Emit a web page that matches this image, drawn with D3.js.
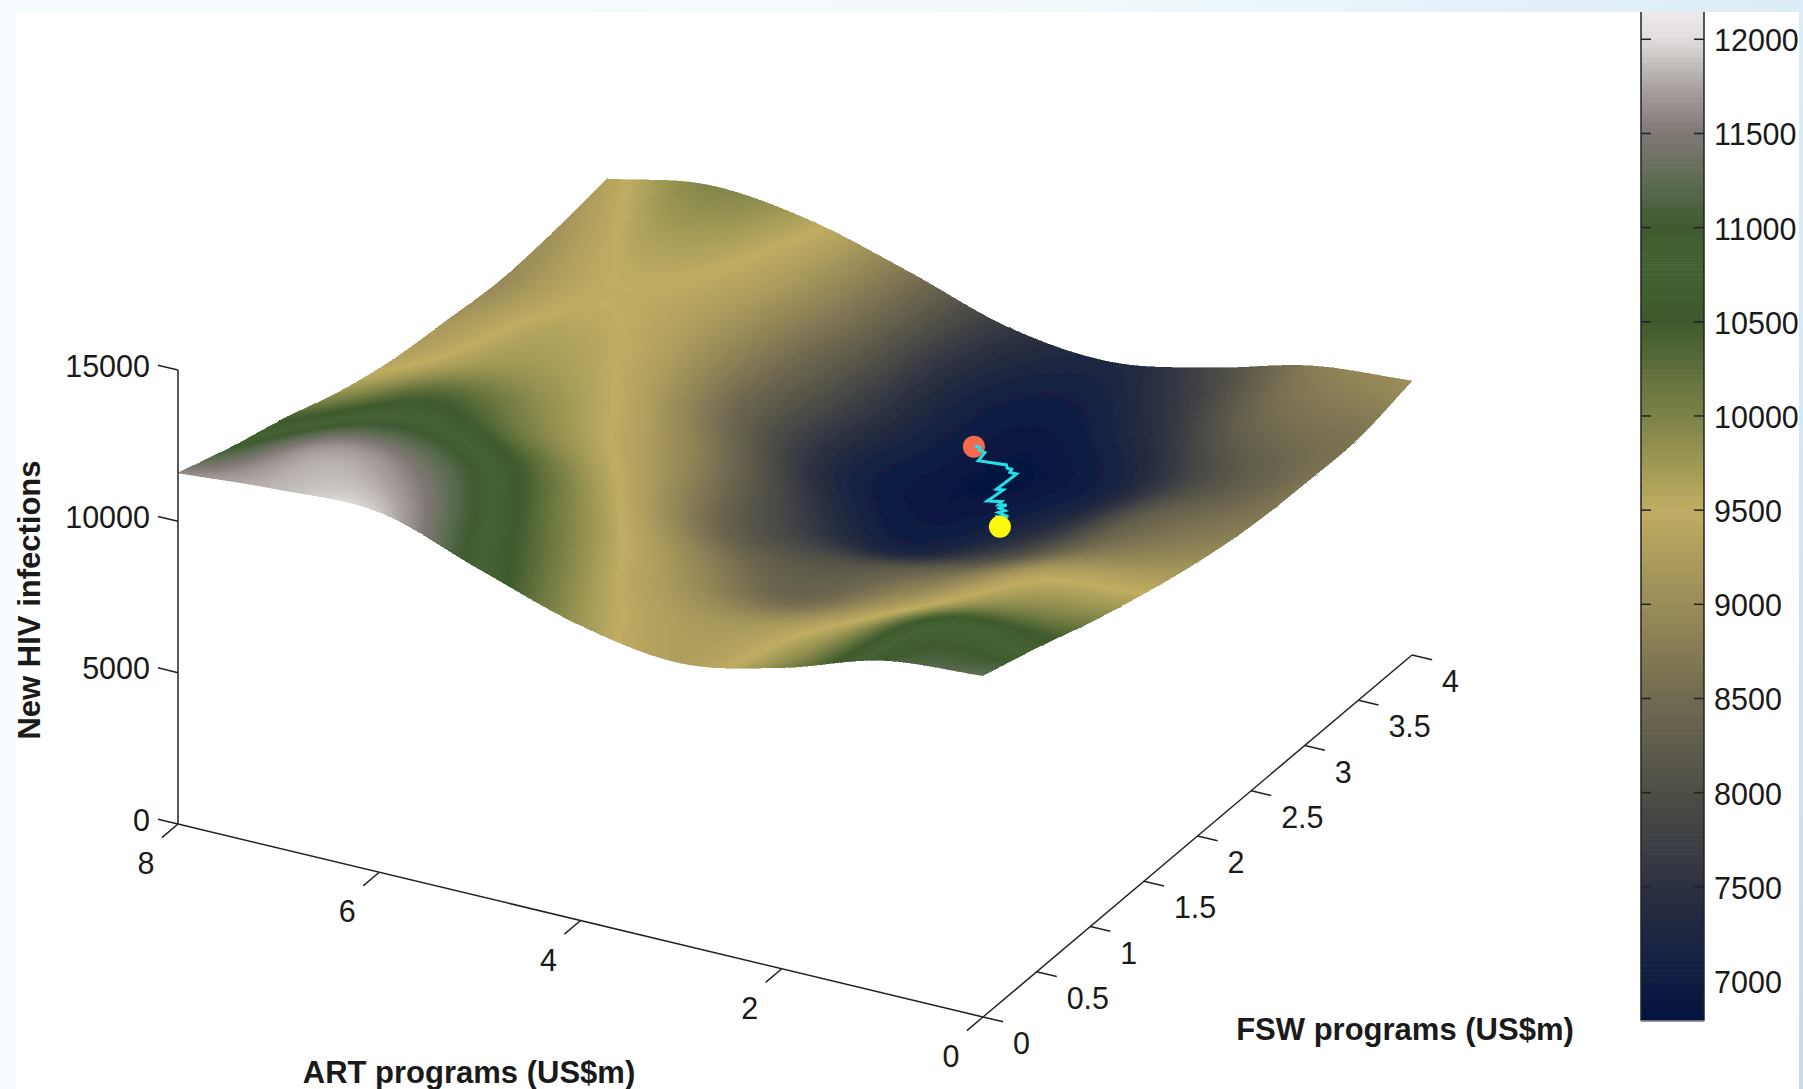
<!DOCTYPE html>
<html><head><meta charset="utf-8">
<script src="https://cdn.jsdelivr.net/npm/d3@7"></script>
<style>html,body{margin:0;padding:0;background:#fff}svg{display:block}
text{font-family:"Liberation Sans",Arial,sans-serif;fill:#1a1a1a}</style></head>
<body><div id="chart"></div>
<script>
const artPrograms=[0,1,2,3,4,5,6,7,8];
const fswPrograms=[0,0.5,1,1.5,2,2.5,3,3.5,4];
const infections0  =[11280,10985,9950,9300,9750,10800,11900,11850,11600];
const infections05 =[10700,10700,9650,9150,9400,10300,11400,11700,10963];
const infections10 =[10050,9850,9100,8450,9000,9800,10750,11000,10426];
const infections15 =[9500,9350,8550,8100,8250,9300,9950,10400,9790];
const infections20 =[9050,8650,7750,7150,7750,8850,9600,9800,9352];
const infections25 =[8750,8300,7300,6900,7200,8300,9350,9600,9146];
const infections30 =[8650,8000,7100,6850,7300,8350,9250,9480,8972];
const infections35 =[8650,8450,7500,7000,7350,8550,9400,9650,9097];
const infections40 =[9055,8754,7890,7290,7617,8672,9600,9950,9352];
const surfaceRows=[infections0,infections05,infections10,infections15,infections20,infections25,infections30,infections35,infections40];

const pathArt=[3.357,3.306,3.286,3.218,3.196,2.938,2.902,2.859,2.845,2.777,2.792,2.734,2.756,2.639,2.635,2.571,2.597,2.531,2.564,2.450,2.553];
const pathFsw=[3.074,3.073,3.048,3.037,2.954,2.976,2.949,2.949,2.920,2.919,2.746,2.754,2.626,2.650,2.615,2.632,2.589,2.579,2.549,2.534,2.507];
const pathLevel=7000;
const startPoint={art:3.358,fsw:3.066,z:7000};
const endPoint={art:2.423,fsw:2.431,z:7000};

const zTicks=[0,5000,10000,15000];
const artTicks=[0,2,4,6,8];
const fswTicks=[0,0.5,1,1.5,2,2.5,3,3.5,4];
const barTicks=[7000,7500,8000,8500,9000,9500,10000,10500,11000,11500,12000];
const mapValues=[6789,7000,7500,8000,8500,9000,9500,10000,10500,10800,11000,11250,11500,11750,12000,12145];
const mapColors=["#03123f","#0e1c42","#2c3141","#4e4e46","#706a50","#9a8c58","#c0ad62","#7c8247","#3e5a2c","#456232","#3f5b2f","#5d6c52","#7f7774","#aaa3a1","#e2dddc","#efeaea"];

const W=1803,H=1089;
const color=d3.scaleLinear().domain(mapValues).range(mapColors).interpolate(d3.interpolateRgb).clamp(true);
const pxArtX=d3.scaleLinear().domain([0,8]).range([983,178]);
const pxArtY=d3.scaleLinear().domain([0,8]).range([1017,824]);
const pxFswX=d3.scaleLinear().domain([0,4]).range([0,429]);
const pxFswY=d3.scaleLinear().domain([0,4]).range([0,-362]);
const pxZ=d3.scaleLinear().domain([0,15000]).range([0,-454]);
const project=(a,f,z)=>[pxArtX(a)+pxFswX(f),pxArtY(a)+pxFswY(f)+pxZ(z)];
const line=d3.line();

const svg=d3.select("#chart").append("svg").attr("width",W).attr("height",H);
const defs=svg.append("defs");
const g1=defs.append("linearGradient").attr("id","bgH");
g1.selectAll("stop").data([["0%","#f6fbfd"],["55%","#f4fafc"],["100%","#dcecf5"]]).join("stop").attr("offset",d=>d[0]).attr("stop-color",d=>d[1]);
const g2=defs.append("linearGradient").attr("id","bgV").attr("x1",0).attr("x2",0).attr("y1",0).attr("y2",1);
g2.selectAll("stop").data([["0%","#dceef7"],["100%","#c6dcef"]]).join("stop").attr("offset",d=>d[0]).attr("stop-color",d=>d[1]);
defs.append("filter").attr("id","soft").attr("x","-5%").attr("y","-5%").attr("width","110%").attr("height","110%")
  .append("feGaussianBlur").attr("stdDeviation",0.7);
svg.append("rect").attr("width",W).attr("height",H).attr("fill","url(#bgH)");
svg.append("rect").attr("x",1799).attr("width",4).attr("height",H).attr("fill","url(#bgV)");
svg.append("rect").attr("x",16).attr("y",12).attr("width",1783).attr("height",H-12).attr("fill","#fff");

// surface, Catmull-Rom resampled from the table for drawing
function cr(p0,p1,p2,p3,t){return 0.5*((2*p1)+(-p0+p2)*t+(2*p0-5*p1+4*p2-p3)*t*t+(-p0+3*p1-3*p2+p3)*t*t*t);}
function surf(a,f){
  const u=a, v=f/0.5;
  const i=Math.min(Math.floor(u),7), j=Math.min(Math.floor(v),7);
  const tu=u-i, tv=v-j;
  const cl=(k,n)=>Math.max(0,Math.min(n,k));
  const gv=(jj,ii)=>{
    const J=cl(jj,8), I=cl(ii,8);
    let val=surfaceRows[J][I];
    if(ii<0) val=2*surfaceRows[J][0]-surfaceRows[J][-ii];
    if(ii>8) val=2*surfaceRows[J][8]-surfaceRows[J][16-ii];
    if(jj<0){val=2*surfaceRows[0][I]-surfaceRows[-jj][I];}
    if(jj>8){val=2*surfaceRows[8][I]-surfaceRows[16-jj][I];}
    return val;
  };
  const c=[];
  for(let m=-1;m<=2;m++) c.push(cr(gv(j+m,i-1),gv(j+m,i),gv(j+m,i+1),gv(j+m,i+2),tu));
  return cr(c[0],c[1],c[2],c[3],tv);
}
const NA=220,NF=110;
const aS=d3.scaleLinear().domain([0,NA]).range([0,8]);
const fS=d3.scaleLinear().domain([0,NF]).range([0,4]);
const cells=[];
for(let j=NF-1;j>=0;j--)for(let i=0;i<NA;i++)cells.push({i,j});
svg.append("g").attr("filter","url(#soft)").attr("shape-rendering","crispEdges")
  .selectAll("path").data(cells).join("path")
  .attr("d",d=>{
    const q=[[d.i,d.j],[d.i+1,d.j],[d.i+1,d.j+1],[d.i,d.j+1]].map(([i,j])=>{const a=aS(i),f=fS(j);return project(a,f,surf(a,f));});
    return line(q)+"Z";})
  .each(function(d){const c=color(surf(aS(d.i+.5),fS(d.j+.5)));d3.select(this).attr("fill",c).attr("stroke",c);})
  .attr("stroke-width",0.6);

// path & markers
const pathPts=pathArt.map((a,k)=>project(a,pathFsw[k],pathLevel));
svg.append("circle").attr("cx",project(startPoint.art,startPoint.fsw,startPoint.z)[0]).attr("cy",project(startPoint.art,startPoint.fsw,startPoint.z)[1]).attr("r",11).attr("fill","#f4694f");
svg.append("path").attr("d",line(pathPts)).attr("fill","none").attr("stroke","#25dfe6").attr("stroke-width",3).attr("stroke-linejoin","miter");
svg.append("circle").attr("cx",project(endPoint.art,endPoint.fsw,endPoint.z)[0]).attr("cy",project(endPoint.art,endPoint.fsw,endPoint.z)[1]).attr("r",11).attr("fill","#fdf70f");

// axes
const ax=svg.append("g").attr("stroke","#222").attr("stroke-width",1.5).attr("fill","none");
const seg=(a,b)=>ax.append("path").attr("d",line([a,b]));
seg(project(0,0,0),project(8,0,0));
seg(project(0,0,0),project(0,4,0));
seg(project(8,0,0),project(8,0,15000));
artTicks.forEach(t=>seg(project(t,0,0),project(t,-0.15,0)));
fswTicks.forEach(t=>seg(project(0,t,0),project(-0.2,t,0)));
zTicks.forEach(t=>seg(project(8,0,t),project(8.2,0,t)));

const lab=svg.append("g").attr("font-size",30.5);
const txt=(x,y,s,anc)=>lab.append("text").attr("x",x).attr("y",y).attr("text-anchor",anc).attr("dominant-baseline","central").text(s);
artTicks.forEach(t=>{const p=project(t,0,0);txt(p[0]-32,p[1]+39,String(t),"middle");});
fswTicks.forEach(t=>{const p=project(0,t,0);txt(p[0]+30,p[1]+26,String(t),"start");});
zTicks.forEach(t=>{const p=project(8,0,t);txt(150,p[1]-4.5,String(t),"end");});

const tl=svg.append("g").attr("font-size",31).attr("font-weight","bold");
tl.append("text").attr("x",469).attr("y",1072).attr("text-anchor","middle").attr("dominant-baseline","central").text("ART programs (US$m)");
tl.append("text").attr("x",1405).attr("y",1029).attr("text-anchor","middle").attr("dominant-baseline","central").text("FSW programs (US$m)");
tl.append("text").attr("transform","translate(29,600) rotate(-90)").attr("text-anchor","middle").attr("dominant-baseline","central").text("New HIV infections");

// colour bar
const barY=d3.scaleLinear().domain([7000,12000]).range([981,39.3]);
const barX0=1641,barX1=1704,barTop=12,barBot=1020.7;
const barVals=d3.range(0,200).map(k=>barTop+(barBot-barTop)*k/200);
const step=(barBot-barTop)/200;
svg.append("g").selectAll("rect").data(barVals).join("rect")
  .attr("x",barX0).attr("width",barX1-barX0).attr("y",d=>d).attr("height",step+0.6)
  .attr("fill",d=>color(barY.invert(d+step/2)));
const bx=svg.append("g").attr("stroke","#222").attr("stroke-width",1.5).attr("fill","none");
bx.append("path").attr("d",line([[barX0,barTop],[barX0,barBot]]));
bx.append("path").attr("d",line([[barX1,barTop],[barX1,barBot]]));
bx.append("path").attr("d",line([[barX0,barBot],[barX1,barBot]])).attr("stroke","#777");
barTicks.forEach(t=>{const y=barY(t);
  bx.append("path").attr("d",line([[barX0,y],[barX0+10,y]]));
  bx.append("path").attr("d",line([[barX1-10,y],[barX1,y]]));
  lab.append("text").attr("x",1714).attr("y",y+1).attr("dominant-baseline","central").text(String(t));
});
</script></body></html>
